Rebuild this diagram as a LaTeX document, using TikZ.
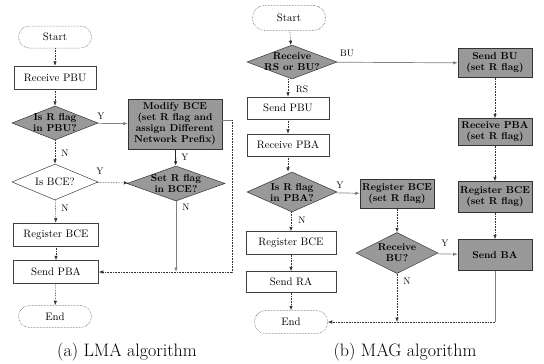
\documentclass[tikz,border=0pt]{standalone}
\usepackage{fontspec}
\usetikzlibrary{arrows.meta,shapes.geometric}
\begin{document}
\begin{tikzpicture}[x=1pt,y=-1pt,
  wfont/.style={font=\fontsize{10.8}{12}\selectfont\addfontfeature{LetterSpace=6}},
  gfont/.style={font=\fontsize{10}{11}\selectfont\bfseries},
  wbox/.style={draw=black!75, line width=0.5pt, fill=white, minimum height=23pt, inner sep=0pt, wfont},
  gbox/.style={draw=black!80, line width=0.5pt, fill=black!40, align=center, inner sep=0pt, gfont},
  term/.style={draw=black!75, line width=0.5pt, densely dotted, rounded corners=11pt, minimum height=22pt, inner sep=0pt, wfont},
  gdia/.style={diamond, draw=black!80, line width=0.5pt, fill=black!40, inner sep=0pt},
  wdia/.style={diamond, draw=black!75, line width=0.5pt, fill=white, inner sep=0pt},
  dtext/.style={align=center, inner sep=0pt, gfont},
  wdtext/.style={align=center, inner sep=0pt, wfont},
  arrtip/.style={-{Latex[length=4.5pt,width=3.5pt]}},
  arr/.style={arrtip, draw=black!80, line width=0.6pt, densely dotted},
  sarr/.style={arrtip, draw=black!50, line width=0.7pt},
  karr/.style={arrtip, draw=black!85, line width=0.9pt},
  sline/.style={draw=black!50, line width=0.7pt},
  lab/.style={font=\fontsize{9.5}{10}\selectfont, inner sep=0pt},
  captext/.style={font=\fontsize{18}{20}\selectfont\addfontfeature{LetterSpace=10}, inner sep=0pt}]
\useasboundingbox (0,0) rectangle (544,364);
% ---------------- (a) LMA ----------------
\node[term, minimum width=73] (s1) at (55,37) {Start};
\node[wbox, minimum width=82] (rpbu) at (55,77.5) {Receive PBU};
\node[gdia, minimum width=86, minimum height=34] (d1) at (55,123) {};
\node[dtext] (d1t) at (d1) {Is R flag\\in PBU?};
\node[gbox, minimum width=94, minimum height=50] (mod) at (175,124) {Modify BCE\\(set R flag and\\assign Different\\Network Prefix)};
\node[wdia, minimum width=86, minimum height=36] (d2) at (55,182) {};
\node[wdtext] (d2t) at (d2) {Is BCE?};
\node[gdia, minimum width=98, minimum height=35] (d3) at (176,183.5) {};
\node[dtext] (d3t) at (d3) {Set R flag\\in BCE?};
\node[wbox, minimum width=85] (reg1) at (56,234.5) {Register BCE};
\node[wbox, minimum width=85] (spba) at (56,272) {Send PBA};
\node[term, minimum width=73] (e1) at (55,316.5) {End};
\coordinate (c1) at (232,120);
\coordinate (c2) at (232,272);

\draw[arr] (s1) -- (rpbu);
\draw[arr] (rpbu) -- (d1);
\draw[sarr] (d1) -- (mod);
\node[lab] (y1) at (101,116) {Y};
\draw[arr] (d1) -- (d2);
\node[lab] (n1) at (65,153) {N};
\draw[sline] (mod.east |- c1) -- (c1);
\draw[arr] (c1) -- (c2) -- (spba);
\draw[karr] (mod) -- (d3);
\node[lab] (y2) at (185,157) {Y};
\draw[arr] (d2) -- (d3);
\node[lab] (y3) at (100,171) {Y};
\draw[sarr] (d3) -- (d3 |- c2);
\node[lab] (n2) at (186,207) {N};
\draw[arr] (d2) -- (reg1);
\node[lab] (n3) at (65,208) {N};
\draw[arr] (reg1) -- (spba);
\draw[arr] (spba) -- (e1);
\node[captext] (capa) at (127,352) {(a) LMA algorithm};
% ---------------- (b) MAG ----------------
\node[term, minimum width=73, minimum height=25, rounded corners=12pt] (s2) at (289,18) {Start};
\node[gdia, minimum width=90, minimum height=34] (d4) at (292,62) {};
\node[dtext] (d4t) at (d4) {Receive\\RS or BU?};
\node[wbox, minimum width=82, minimum height=22] (spbu) at (288,108) {Send PBU};
\node[wbox, minimum width=82, minimum height=22] (rpba) at (288,145) {Receive PBA};
\node[gdia, minimum width=90, minimum height=40] (d5) at (292,192) {};
\node[dtext] (d5t) at (d5) {Is R flag\\in PBA?};
\node[wbox, minimum width=90, minimum height=23] (reg2) at (291,243) {Register BCE};
\node[wbox, minimum width=90, minimum height=21] (sra) at (291,282) {Send RA};
\node[term, minimum width=73, minimum height=23] (e2) at (291,322) {End};

\node[gbox, minimum width=74, minimum height=29] (sbu) at (495,63) {Send BU\\(set R flag)};
\node[gbox, minimum width=74, minimum height=27] (rpba2) at (495,132) {Receive PBA\\(set R flag)};
\node[gbox, minimum width=74, minimum height=31] (reg4) at (495,197) {Register BCE\\(set R flag)};
\node[gbox, minimum width=74, minimum height=31] (sba) at (495,255) {Send BA};
\node[gbox, minimum width=74, minimum height=29] (reg3) at (397,194) {Register BCE\\(set R flag)};
\node[gdia, minimum width=82, minimum height=41] (d6) at (397,253) {};
\node[dtext] (d6t) at (d6) {Receive\\BU?};
\coordinate (c3) at (495,322);

\draw[arr] (s2) -- (d4);
\draw[sarr] (d4) -- (sbu);
\node[lab] (bu) at (347,53) {BU};
\draw[arr] (d4.south -| spbu) -- (spbu);
\node[lab] (rs) at (302,89) {RS};
\draw[arr] (spbu) -- (rpba);
\draw[arr] (rpba) -- (rpba |- d5.north);
\draw[sarr] (d5) -- (reg3);
\node[lab] (y4) at (340,185) {Y};
\draw[arr] (d5.south -| reg2) -- (reg2);
\node[lab] (n4) at (302,220) {N};
\draw[arr] (reg2) -- (sra);
\draw[arr] (sra) -- (e2);
\draw[arr] (sbu) -- (rpba2);
\draw[arr] (rpba2) -- (reg4);
\draw[arr] (reg4) -- (sba);
\draw[arr] (reg3) -- (d6);
\draw[sarr] (d6) -- (sba);
\node[lab] (y5) at (445,243) {Y};
\draw[arr] (d6) -- (d6 |- c3);
\node[lab] (n5) at (407,281) {N};
\draw[sline] (sba) -- (c3);
\draw[arr] (c3) -- (e2);
\node[captext] (capb) at (405,352) {(b) MAG algorithm};
\end{tikzpicture}
\end{document}
